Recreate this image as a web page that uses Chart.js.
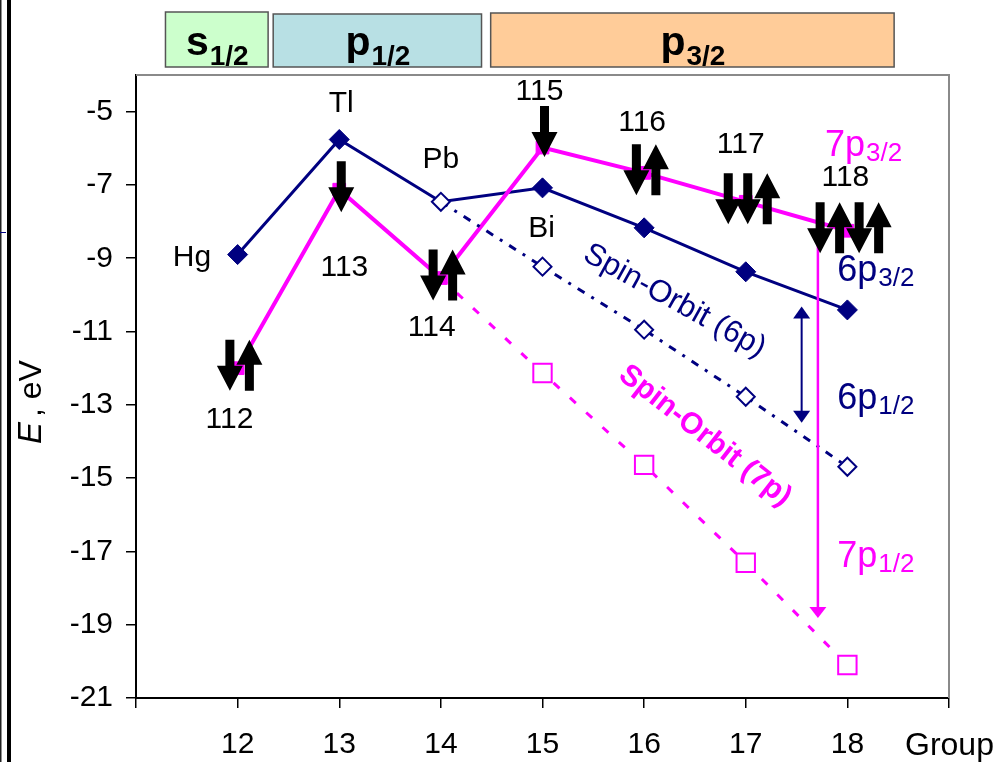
<!DOCTYPE html>
<html><head><meta charset="utf-8">
<script src="https://cdn.jsdelivr.net/npm/chart.js@4.4.1/dist/chart.umd.min.js"></script>
<style>html,body{margin:0;padding:0;background:#fff;overflow:hidden}#wrap{width:1000px;height:762px;position:relative}</style>
</head><body><div id="wrap"><canvas id="c" width="1000" height="762"></canvas></div>
<script>
// ---- data ----
const groups = [12, 13, 14, 15, 16, 17, 18];
const e6p32 = [-8.9, -5.76, -7.46, -7.08, -8.17, -9.37, -10.41];      // Hg..Rn 6p (solid navy)
const e6p12 = [null, null, -7.46, -9.23, -10.95, -12.78, -14.69];    // 6p1/2 branch (dotted navy)
const e7p32 = [-12.0, -7.13, -9.54, -5.98, -6.67, -7.46, -8.25];     // 112..118 7p (solid magenta)
const e7p12 = [null, null, -9.54, -12.13, -14.64, -17.31, -20.1];    // 7p1/2 branch (dashed magenta)
const spins = ['du', 'd', 'du', 'd', 'du', 'ddu', 'dudu'];
const superheavy = ['112', '113', '114', '115', '116', '117', '118'];
const lightElems = ['Hg', 'Tl', 'Pb', 'Bi'];
const xTicks = [11, 12, 13, 14, 15, 16, 17, 18, 19];
const yTicks = [-21, -19, -17, -15, -13, -11, -9, -7, -5];
const shells = [['s', '1/2'], ['p', '1/2'], ['p', '3/2']];

const NAVY = '#000080', MAG = '#ff00ff';
const FONT = '"Liberation Sans", Arial, sans-serif';
const pts = arr => groups.map((g, i) => ({x: g, y: arr[i]})).filter(p => p.y !== null);

function subText(ctx, main, sub, x, y, mf, sf, color, align, subDy) {
  ctx.save();
  ctx.fillStyle = color; ctx.textBaseline = 'alphabetic'; ctx.textAlign = 'left';
  ctx.font = mf; const w1 = ctx.measureText(main).width;
  ctx.font = sf; const w2 = ctx.measureText(sub).width;
  let x0 = align === 'center' ? x - (w1 + w2) / 2 : x;
  ctx.font = mf; ctx.fillText(main, x0, y);
  ctx.font = sf; ctx.fillText(sub, x0 + w1 + 1, y + subDy);
  ctx.restore();
}
function spinArrow(ctx, cx, cy, dir) {
  const h = 51, sw = 9, hw = 26, hl = 25;
  const top = cy - h / 2, bot = cy + h / 2;
  ctx.beginPath();
  if (dir === 'd') {
    ctx.moveTo(cx - sw / 2, top); ctx.lineTo(cx + sw / 2, top);
    ctx.lineTo(cx + sw / 2, bot - hl); ctx.lineTo(cx + hw / 2, bot - hl);
    ctx.lineTo(cx, bot); ctx.lineTo(cx - hw / 2, bot - hl);
    ctx.lineTo(cx - sw / 2, bot - hl);
  } else {
    ctx.moveTo(cx - sw / 2, bot); ctx.lineTo(cx + sw / 2, bot);
    ctx.lineTo(cx + sw / 2, top + hl); ctx.lineTo(cx + hw / 2, top + hl);
    ctx.lineTo(cx, top); ctx.lineTo(cx - hw / 2, top + hl);
    ctx.lineTo(cx - sw / 2, top + hl);
  }
  ctx.closePath(); ctx.fillStyle = '#000'; ctx.fill();
}
function head(ctx, x, y, dir, w, l, color) {
  ctx.beginPath();
  ctx.moveTo(x, y); ctx.lineTo(x - w / 2, y - dir * l); ctx.lineTo(x + w / 2, y - dir * l);
  ctx.closePath(); ctx.fillStyle = color; ctx.fill();
}

const deco = {
  id: 'deco',
  beforeDraw(chart) {
    const ctx = chart.ctx, xs = chart.scales.x;
    ctx.save();
    ctx.fillStyle = '#fff'; ctx.fillRect(0, 0, chart.width, chart.height);
    // slide frame at left
    ctx.fillStyle = '#222'; ctx.fillRect(0, 0, 1.5, chart.height);
    ctx.fillStyle = '#000'; ctx.fillRect(7, 0, 4, chart.height);
    ctx.fillStyle = NAVY; ctx.fillRect(0, 232, 6, 1);
    // shell boxes
    const boxes = [[11.29, 12.3, '#ccffcc', 12], [12.35, 14.4, '#b8e0e4', 14], [14.49, 18.46, '#ffcc99', 13]];
    boxes.forEach((b, i) => {
      const x0 = xs.getPixelForValue(b[0]), x1 = xs.getPixelForValue(b[1]);
      ctx.fillStyle = b[2]; ctx.fillRect(x0, b[3], x1 - x0, 67 - b[3]);
      ctx.strokeStyle = '#555'; ctx.lineWidth = 1.5; ctx.strokeRect(x0, b[3], x1 - x0, 67 - b[3]);
      subText(ctx, shells[i][0], shells[i][1], (x0 + x1) / 2, 55, 'bold 41px ' + FONT, 'bold 28px ' + FONT, '#000', 'center', 10);
    });
    // y axis title
    ctx.save();
    ctx.translate(41, 400); ctx.rotate(-Math.PI / 2);
    ctx.fillStyle = '#000'; ctx.textBaseline = 'alphabetic'; ctx.textAlign = 'left';
    ctx.font = 'italic 33px ' + FONT; const wE = ctx.measureText('E').width;
    ctx.font = '32px ' + FONT; const wR = ctx.measureText(' , eV').width;
    const x0 = -(wE + wR) / 2;
    ctx.font = 'italic 33px ' + FONT; ctx.fillText('E', x0, 0);
    ctx.font = '32px ' + FONT; ctx.fillText(' , eV', x0 + wE - 4, 0);
    ctx.restore();
    // Group label
    ctx.fillStyle = '#000'; ctx.font = '32px ' + FONT; ctx.textAlign = 'left'; ctx.textBaseline = 'middle';
    ctx.fillText('Group', 905, 746);
    ctx.restore();
  },
  beforeDatasetsDraw(chart) {
    const ctx = chart.ctx, a = chart.chartArea;
    ctx.save();
    ctx.strokeStyle = '#8a8a8a'; ctx.lineWidth = 2;
    ctx.beginPath(); ctx.moveTo(a.left, a.top); ctx.lineTo(a.right, a.top); ctx.lineTo(a.right, a.bottom); ctx.stroke();
    ctx.restore();
  },
  afterDatasetsDraw(chart) {
    const ctx = chart.ctx, xs = chart.scales.x, ys = chart.scales.y;
    const X = v => xs.getPixelForValue(v), Y = v => ys.getPixelForValue(v);
    ctx.save();
    // spin-orbit vertical arrows
    ctx.strokeStyle = MAG; ctx.lineWidth = 2.5;
    ctx.beginPath(); ctx.moveTo(X(17.71), Y(e7p32[6])); ctx.lineTo(X(17.71), Y(-18.82) - 8); ctx.stroke();
    head(ctx, X(17.71), Y(-18.82), 1, 17, 11, MAG);
    ctx.strokeStyle = NAVY; ctx.lineWidth = 2;
    ctx.beginPath(); ctx.moveTo(X(17.55), Y(-10.32) + 8); ctx.lineTo(X(17.55), Y(-13.49) - 8); ctx.stroke();
    head(ctx, X(17.55), Y(-10.32), -1, 17, 12, NAVY);
    head(ctx, X(17.55), Y(-13.49), 1, 17, 12, NAVY);
    // spin arrows on 7p points
    const arrowDy = [0, 0, 0, -13, 0, 0, 0];
    groups.forEach((g, i) => {
      const s = spins[i], n = s.length, px = X(g) + 2, py = Y(e7p32[i]) - 3 + arrowDy[i];
      for (let k = 0; k < n; k++) spinArrow(ctx, px + (k - (n - 1) / 2) * 19.5, py, s[k]);
    });
    // element labels
    ctx.fillStyle = '#000'; ctx.font = '30px ' + FONT; ctx.textAlign = 'center'; ctx.textBaseline = 'middle';
    const lightPos = [[11.55, -8.99], [13.02, -4.78], [14.0, -6.31], [14.99, -8.19]];
    lightElems.forEach((t, i) => ctx.fillText(t, X(lightPos[i][0]), Y(lightPos[i][1])));
    const heavyPos = [[11.92, -13.41], [13.05, -9.26], [13.91, -10.9], [14.97, -4.45], [15.98, -5.3], [16.95, -5.9], [17.98, -6.8]];
    superheavy.forEach((t, i) => ctx.fillText(t, X(heavyPos[i][0]), Y(heavyPos[i][1])));
    // level labels
    subText(ctx, '7p', '3/2', X(17.78), Y(-6.2), '36px ' + FONT, '26px ' + FONT, MAG, 'left', 5);
    subText(ctx, '6p', '3/2', X(17.90), Y(-9.61), '36px ' + FONT, '26px ' + FONT, NAVY, 'left', 5);
    subText(ctx, '6p', '1/2', X(17.90), Y(-13.12), '36px ' + FONT, '26px ' + FONT, NAVY, 'left', 5);
    subText(ctx, '7p', '1/2', X(17.90), Y(-17.43), '36px ' + FONT, '26px ' + FONT, MAG, 'left', 5);
    // spin-orbit captions
    ctx.save();
    ctx.translate(X(16.3), Y(-10.17)); ctx.rotate(29 * Math.PI / 180);
    ctx.fillStyle = NAVY; ctx.font = '31px ' + FONT; ctx.textAlign = 'center'; ctx.textBaseline = 'middle';
    ctx.fillText('Spin-Orbit (6p)', 0, 0);
    ctx.restore();
    ctx.save();
    ctx.translate(X(16.6), Y(-13.85)); ctx.rotate(38 * Math.PI / 180);
    ctx.fillStyle = MAG; ctx.font = 'bold 30px ' + FONT; ctx.textAlign = 'center'; ctx.textBaseline = 'middle';
    ctx.fillText('Spin-Orbit (7p)', 0, 0);
    ctx.restore();
    ctx.restore();
  }
};

const tickFont = {family: FONT, size: 30};
new Chart(document.getElementById('c'), {
  type: 'line',
  data: {
    datasets: [
      {label: '6p1/2', data: pts(e6p12), order: 0, borderColor: NAVY, borderWidth: 3, borderDash: [8, 8, 3, 8],
       pointStyle: 'rectRot', pointRadius: [9, 9, 9, 9, 9], pointBackgroundColor: '#fff', pointBorderColor: NAVY, pointBorderWidth: 2},
      {label: '7p3/2', data: pts(e7p32), order: 1, borderColor: MAG, borderWidth: 4,
       pointStyle: 'rect', pointRadius: 9, pointBackgroundColor: MAG, pointBorderColor: MAG, pointBorderWidth: 1},
      {label: '6p3/2', data: pts(e6p32), order: 2, borderColor: NAVY, borderWidth: 3,
       pointStyle: 'rectRot', pointRadius: [10, 10, 0, 10, 10, 10, 10], pointBackgroundColor: NAVY, pointBorderColor: NAVY, pointBorderWidth: 1},
      {label: '7p1/2', data: pts(e7p12), order: 3, borderColor: MAG, borderWidth: 3, borderDash: [8, 14],
       pointStyle: 'rect', pointRadius: [0, 13, 13, 13, 13], pointBackgroundColor: '#fff', pointBorderColor: MAG, pointBorderWidth: 2}
    ]
  },
  options: {
    responsive: false, animation: false, devicePixelRatio: 1,
    layout: {padding: {top: 75, right: 51, left: 0, bottom: 0}},
    plugins: {legend: {display: false}, tooltip: {enabled: false}},
    elements: {line: {tension: 0}},
    scales: {
      x: {
        type: 'linear', min: 11, max: 19,
        afterBuildTicks: s => { s.ticks = xTicks.map(v => ({value: v})); },
        afterFit: s => { s.height = 64; },
        ticks: {font: tickFont, color: '#000', padding: 19, maxRotation: 0, autoSkip: false,
                callback: v => (v >= 12 && v <= 18) ? String(v) : ''},
        grid: {drawOnChartArea: false, drawTicks: true, tickLength: 10, color: '#000', lineWidth: 1.5},
        border: {color: '#000', width: 2}
      },
      y: {
        type: 'linear', min: -21, max: -4,
        afterBuildTicks: s => { s.ticks = yTicks.map(v => ({value: v})); },
        afterFit: s => { s.width = 136; },
        ticks: {font: tickFont, color: '#000', padding: 13},
        grid: {drawOnChartArea: false, drawTicks: true, tickLength: 10, color: '#000', lineWidth: 1.5},
        border: {color: '#000', width: 2}
      }
    }
  },
  plugins: [deco]
});
</script>
</body></html>
